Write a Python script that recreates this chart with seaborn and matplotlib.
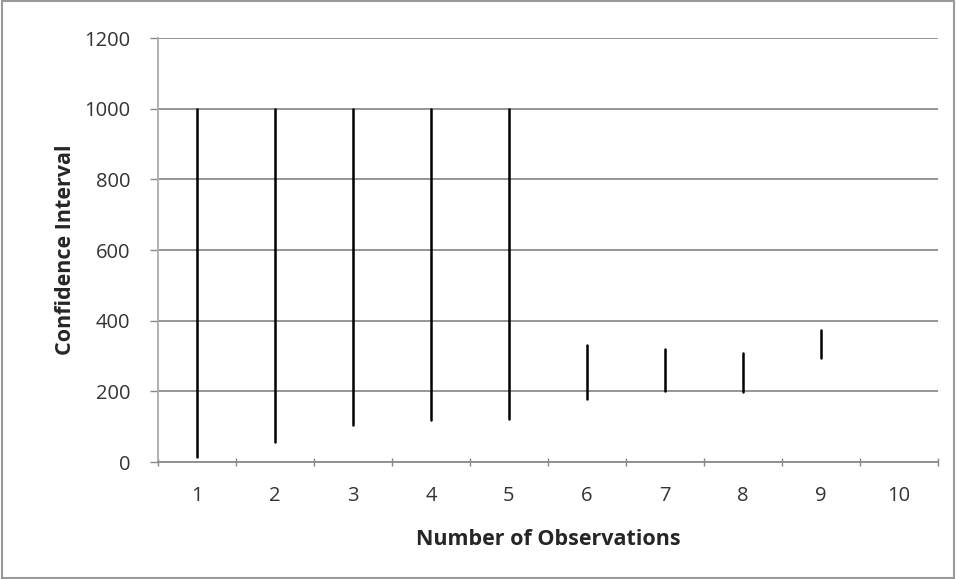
import matplotlib
matplotlib.use("Agg")
import matplotlib.pyplot as plt
import seaborn as sns
import pandas as pd
import numpy as np

categories = [1, 2, 3, 4, 5, 6, 7, 8, 9, 10]
high = [1000, 1000, 1000, 1000, 1000, 330, 320, 308, 374, None]
low = [14, 57, 104, 118, 123, 179, 200, 198, 295, None]
y_ticks = [0, 200, 400, 600, 800, 1000, 1200]

rows = []
for c, h, l in zip(categories, high, low):
    if h is None:
        continue
    rows.append({"obs": c, "value": l})
    rows.append({"obs": c, "value": h})
df = pd.DataFrame(rows)

sns.set_theme(style="white")
plt.rcParams['font.family'] = ['Open Sans', 'DejaVu Sans']

fig = plt.figure(figsize=(9.56, 5.79), dpi=100)
ax = fig.add_axes([158/956, 1 - 462/579, (938-158)/956, (462-38)/579])

sns.lineplot(data=df, x="obs", y="value", units="obs", estimator=None,
             sort=False, color="black", linewidth=1.8, ax=ax)

ax.set_xlim(0.5, 10.5)
ax.set_ylim(0, 1200)
ax.set_yticks(y_ticks)
ax.set_yticklabels([str(v) for v in y_ticks], fontsize=14.5, color="#333333")
ax.set_xticks(categories)
ax.set_xticklabels([str(c) for c in categories], fontsize=14.5, color="#333333")
ax.tick_params(axis="x", length=0, pad=17)
ax.tick_params(axis="y", length=6, width=1, color="#888888", left=True, pad=14)

# minor ticks on x between categories (Excel style crossing ticks)
ax.set_xticks(np.arange(0.5, 11.0, 1.0), minor=True)
ax.tick_params(axis="x", which="minor", length=6, width=1, color="#888888",
               direction="inout", bottom=True)

ax.grid(axis="y", color="#8c8c8c", linewidth=1.3)
ax.set_axisbelow(True)
for s in ["top", "right"]:
    ax.spines[s].set_visible(False)
ax.spines["left"].set_color("#aaaaaa")
ax.spines["left"].set_linewidth(1.3)
ax.spines["bottom"].set_color("#8c8c8c")
ax.spines["bottom"].set_linewidth(1.3)

ax.set_xlabel("Number of Observations", fontsize=15.5, fontweight="bold", labelpad=17)
ax.set_ylabel("Confidence Interval", fontsize=15.5, fontweight="bold", labelpad=6)

# figure border
fig.patches.append(plt.Rectangle((0.002, 0.002), 0.996, 0.996, transform=fig.transFigure,
                                 fill=False, edgecolor="#999999", linewidth=1.5))

fig.savefig("out.png", dpi=100)
